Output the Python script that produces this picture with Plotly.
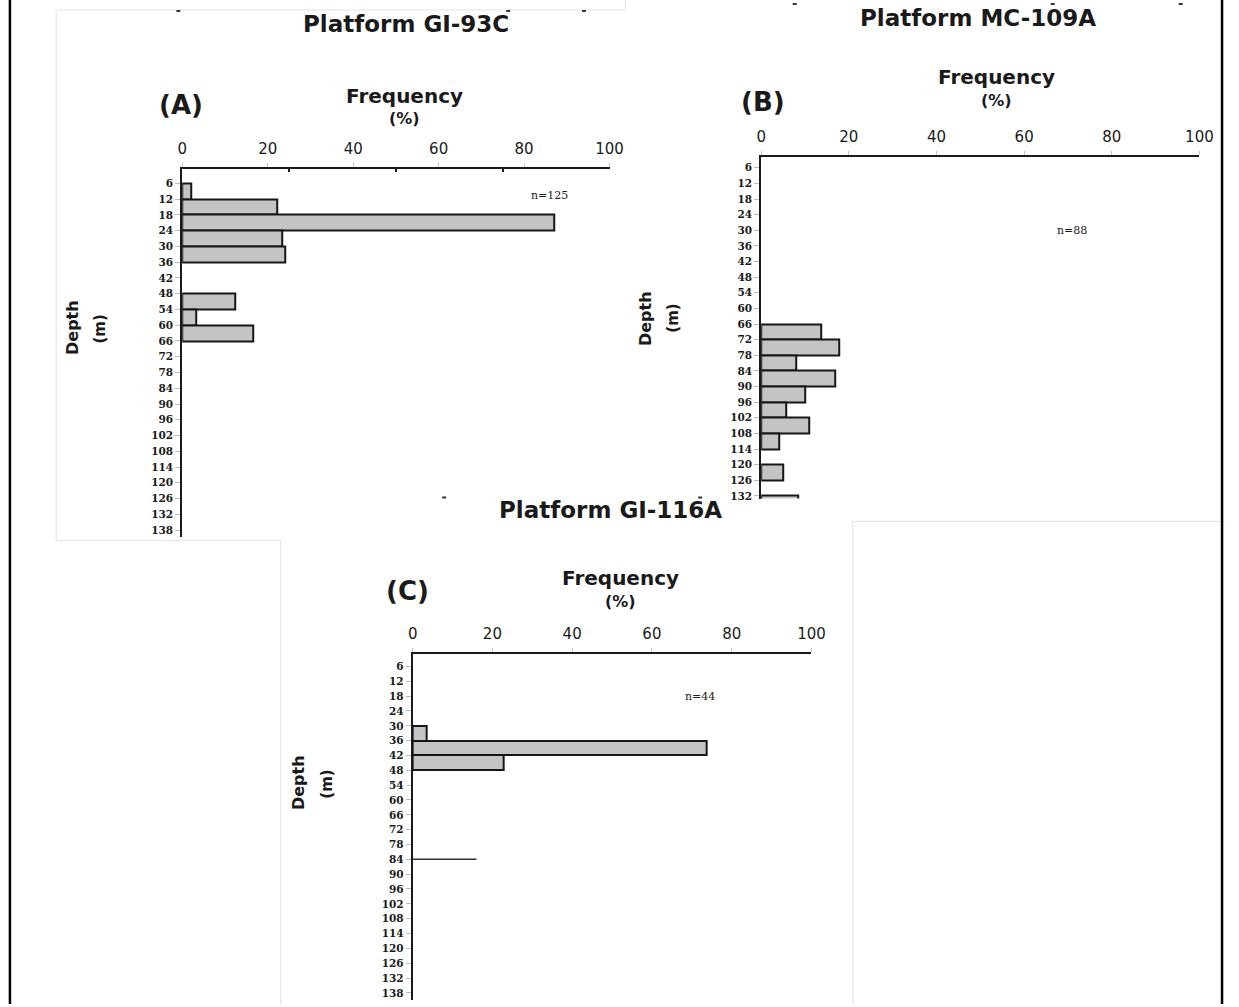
import plotly.graph_objects as go

W, H = 1239, 1007
BIN = 6  # depth class width (m)

# ---- data -------------------------------------------------------------
depth_ticks = list(range(6, 139, 6))
freq_ticks = [0, 20, 40, 60, 80, 100]

# Platform GI-93C (A), n = 125
a_depth_top = [6, 12, 18, 24, 30, 48, 54, 60]
a_freq = [2.0, 22.2, 87.0, 23.5, 24.1, 12.3, 3.2, 16.5]

# Platform MC-109A (B), n = 88
b_depth_top = [66, 72, 78, 84, 90, 96, 102, 108, 120, 132]
b_freq = [13.6, 17.9, 8.1, 16.9, 10.0, 5.7, 10.9, 4.0, 5.0, 8.4]

# Platform GI-116A (C), n = 44
c_depth_top = [30, 36, 42]
c_freq = [3.5, 73.6, 22.8]
c_rule_depth = [84, 84]
c_rule_freq = [0, 16.0]

panels = [
    dict(key="", title="Platform GI-93C", tag="(A)", n="n=125",
         depth=a_depth_top, freq=a_freq, n_at=(86, 10.5),
         xpx=(180, 614), ypx=(170, 539), yrange=(140.8, 0.68)),
    dict(key="2", title="Platform MC-109A", tag="(B)", n="n=88",
         depth=b_depth_top, freq=b_freq, n_at=(71, 30),
         xpx=(768, 1213), ypx=(157, 500), yrange=(133.0, 1.68)),
    dict(key="3", title="Platform GI-116A", tag="(C)", n="n=44",
         depth=c_depth_top, freq=c_freq, n_at=(72, 18),
         xpx=(414, 819), ypx=(656, 1003), yrange=(140.9, 0.97)),
]


def fx(px):
    return px / W


def fy(py):
    return 1 - py / H


fig = go.Figure()

SANS = "DejaVu Sans"
SERIF = "DejaVu Serif"
INK = "#1a1a1a"

for p in panels:
    xa, ya = "x" + p["key"], "y" + p["key"]
    fig.add_trace(go.Bar(
        x=p["freq"], y=[d + BIN / 2 for d in p["depth"]], width=[BIN] * len(p["depth"]),
        orientation="h", marker=dict(color="#c4c4c4", line=dict(color="#161616", width=2)),
        xaxis=xa, yaxis=ya, showlegend=False, hoverinfo="x+y", cliponaxis=True,
    ))
    x0, x1 = p["xpx"]
    y0, y1 = p["ypx"]
    xname = "xaxis" + p["key"]
    yname = "yaxis" + p["key"]
    xaxis = dict(
        domain=[fx(x0), fx(x1)], range=[0, 100], side="top", anchor=ya,
        tickvals=freq_ticks, ticks="outside", ticklen=4, tickcolor="#c8c8c8",
        showline=True, linecolor=INK, linewidth=2, showgrid=False, zeroline=False,
        tickfont=dict(family=SANS, size=15, color=INK), ticklabelstandoff=3,
    )
    if p["key"] == "":
        xaxis["minor"] = dict(tickvals=[25, 50, 75], ticks="inside", ticklen=3,
                              tickcolor=INK, tickwidth=2, showgrid=False)
    yaxis = dict(
        domain=[fy(y1), fy(y0)], range=list(p["yrange"]), anchor=xa,
        tickvals=depth_ticks, ticks="outside", ticklen=5, tickcolor="#bdbdbd",
        showline=True, linecolor=INK, linewidth=2, showgrid=False, zeroline=False,
        tickfont=dict(family=SERIF, size=10.5, color=INK, weight="bold"),
    )
    fig.update_layout({xname: xaxis, yname: yaxis})

    # sample size label inside the plot
    fig.add_annotation(x=p["n_at"][0], y=p["n_at"][1], xref=xa, yref=ya,
                       text=p["n"], showarrow=False,
                       font=dict(family=SERIF, size=11, color=INK))

# the thin rule at 84 m in panel C
fig.add_trace(go.Scatter(x=c_rule_freq, y=c_rule_depth, mode="lines",
                         line=dict(color="#333", width=1.5), xaxis="x3", yaxis="y3",
                         showlegend=False, hoverinfo="skip"))

# ---- text placed in page pixels ---------------------------------------
labels = [
    ("Platform GI-93C", 407, 24, 23, 0),
    ("Platform MC-109A", 988, 18, 23, 0),
    ("Platform GI-116A", 615, 512, 23, 0),
    ("Frequency", 406, 96, 20, 0),
    ("(%)", 406, 119, 16, 0),
    ("Frequency", 1007, 77, 20, 0),
    ("(%)", 1007, 101, 16, 0),
    ("Frequency", 625, 580, 20, 0),
    ("(%)", 625, 603, 16, 0),
    ("(A)", 179, 105, 26, 0),
    ("(B)", 770, 102, 26, 0),
    ("(C)", 409, 593, 26, 0),
    ("Depth", 68, 328, 16, -90),
    ("(m)", 96, 330, 15, -90),
    ("Depth", 650, 320, 16, -90),
    ("(m)", 678, 319, 15, -90),
    ("Depth", 298, 785, 16, -90),
    ("(m)", 327, 786, 15, -90),
]
for txt, x, y, size, ang in labels:
    fig.add_annotation(x=fx(x), y=fy(y), xref="paper", yref="paper",
                       text="<b>" + txt + "</b>", showarrow=False, textangle=ang,
                       xanchor="center", yanchor="middle",
                       font=dict(family=SANS, size=size, color=INK))

# ---- panel frames, small marks and page border -------------------------
shapes = []
frame = "#e2e2e2"
for (xa0, ya0, xa1, ya1) in [
    (52, 10, 630, 10), (52, 10, 52, 542), (52, 542, 280, 542), (630, 0, 630, 10),
    (280, 542, 280, 1007), (861, 523, 861, 1007), (861, 523, 1239, 523),
]:
    shapes.append(dict(type="line", xref="paper", yref="paper",
                       x0=fx(xa0), y0=fy(ya0), x1=fx(xa1), y1=fy(ya1),
                       line=dict(color=frame, width=1)))
for (mx, my) in [(176, 11), (511, 11), (588, 11), (802, 4), (1064, 4), (1194, 4),
                 (446, 499), (706, 499)]:
    shapes.append(dict(type="line", xref="paper", yref="paper",
                       x0=fx(mx - 2), y0=fy(my), x1=fx(mx + 2), y1=fy(my),
                       line=dict(color="#333", width=2)))
for bx in (5, 1236):
    shapes.append(dict(type="line", xref="paper", yref="paper",
                       x0=fx(bx), y0=0, x1=fx(bx), y1=1,
                       line=dict(color="black", width=2.5)))

fig.update_layout(
    width=W, height=H, margin=dict(l=0, r=0, t=0, b=0),
    paper_bgcolor="white", plot_bgcolor="rgba(0,0,0,0)",
    bargap=0, shapes=shapes, showlegend=False,
)

fig.write_html("out.html")
